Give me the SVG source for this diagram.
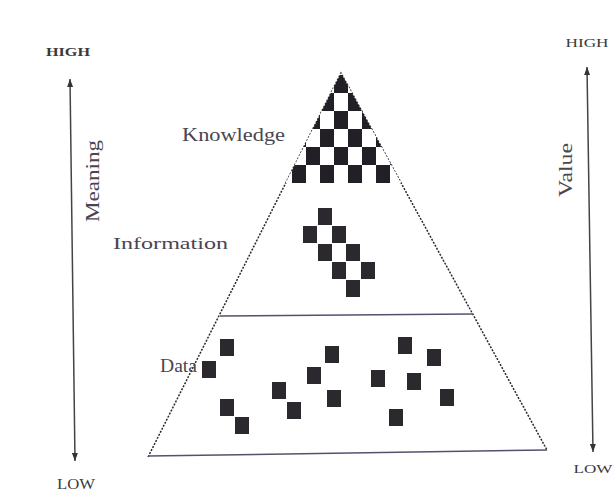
<svg xmlns="http://www.w3.org/2000/svg" width="614" height="495" viewBox="0 0 614 495">
<style>
.lbl{font-family:"Liberation Serif","Times New Roman",serif;fill:#4a4650}
.axis{font-family:"Liberation Serif","Times New Roman",serif;fill:#3a3a3a}
.side{fill:none;stroke:#2a2a2a;stroke-width:1.5;stroke-dasharray:2 1.4}
.base{fill:none;stroke:#5a4e6e;stroke-width:1.5}
.sq{fill:#2b292e}
.arr{fill:none;stroke:#444;stroke-width:1.5}
</style>
<defs>
<pattern id="chk" patternUnits="userSpaceOnUse" x="334" y="93" width="28" height="36">
<rect x="0" y="0" width="28" height="36" fill="#fff"/>
<rect x="14" y="0" width="14" height="18" fill="#222026"/>
<rect x="0" y="18" width="14" height="18" fill="#222026"/>
</pattern>
<marker id="ah" viewBox="0 0 8 6" refX="8" refY="3" markerWidth="8" markerHeight="6" markerUnits="userSpaceOnUse" orient="auto-start-reverse">
<path d="M0,0 L8,3 L0,6 z" fill="#333"/>
</marker>
</defs>
<rect width="614" height="495" fill="#fff"/>

<g id="pyramid">
<polyline class="side" points="148,457 341,73 547,450"/>
<line class="base" x1="148" y1="456" x2="547" y2="450"/>
</g>

<g id="knowledge">
<polygon points="341,73 285.7,183 401.1,183" fill="url(#chk)"/>
<text class="lbl" x="182" y="141" font-size="19" textLength="103" lengthAdjust="spacingAndGlyphs">Knowledge</text>
</g>

<g id="information">
<line class="base" x1="220" y1="316" x2="472" y2="314" stroke="#4a4a7a"/>
<rect class="sq" x="318" y="208" width="14" height="17"/>
<rect class="sq" x="303" y="226" width="14" height="17"/>
<rect class="sq" x="332" y="226" width="14" height="17"/>
<rect class="sq" x="318" y="244" width="14" height="17"/>
<rect class="sq" x="346" y="244" width="14" height="17"/>
<rect class="sq" x="332" y="262" width="14" height="17"/>
<rect class="sq" x="361" y="262" width="14" height="17"/>
<rect class="sq" x="346" y="280" width="14" height="17"/>
<text class="lbl" x="113" y="249" font-size="17" textLength="115" lengthAdjust="spacingAndGlyphs">Information</text>
</g>

<g id="data">
<rect class="sq" x="220" y="339" width="14" height="17"/>
<rect class="sq" x="202" y="361" width="14" height="17"/>
<rect class="sq" x="220" y="399" width="14" height="17"/>
<rect class="sq" x="235" y="417" width="14" height="17"/>
<rect class="sq" x="272" y="382" width="14" height="17"/>
<rect class="sq" x="287" y="402" width="14" height="17"/>
<rect class="sq" x="307" y="367" width="14" height="17"/>
<rect class="sq" x="325" y="346" width="14" height="17"/>
<rect class="sq" x="327" y="390" width="14" height="17"/>
<rect class="sq" x="371" y="370" width="14" height="17"/>
<rect class="sq" x="398" y="337" width="14" height="17"/>
<rect class="sq" x="427" y="349" width="14" height="17"/>
<rect class="sq" x="407" y="373" width="14" height="17"/>
<rect class="sq" x="440" y="389" width="14" height="17"/>
<rect class="sq" x="389" y="409" width="14" height="17"/>
<text class="lbl" x="160" y="372" font-size="18" textLength="37" lengthAdjust="spacingAndGlyphs">Data</text>
</g>

<g id="meaning-axis">
<text class="axis" x="68" y="56" font-size="13" font-weight="bold" text-anchor="middle" textLength="44" lengthAdjust="spacingAndGlyphs">HIGH</text>
<text class="axis" x="76" y="489" font-size="14" text-anchor="middle" textLength="38" lengthAdjust="spacingAndGlyphs">LOW</text>
<text class="lbl" transform="translate(99,181) rotate(-90)" font-size="18" text-anchor="middle" textLength="82" lengthAdjust="spacingAndGlyphs">Meaning</text>
</g>

<g id="value-axis">
<text class="axis" x="587" y="47" font-size="12" text-anchor="middle" textLength="43" lengthAdjust="spacingAndGlyphs">HIGH</text>
<text class="axis" x="593" y="473" font-size="12" text-anchor="middle" textLength="39" lengthAdjust="spacingAndGlyphs">LOW</text>
<text class="lbl" transform="translate(572,170) rotate(-90)" font-size="18" text-anchor="middle" textLength="54" lengthAdjust="spacingAndGlyphs">Value</text>
</g>

<g id="connectors">
<line class="arr" x1="70" y1="79" x2="75" y2="461" marker-start="url(#ah)" marker-end="url(#ah)"/>
<line class="arr" x1="587" y1="67" x2="593" y2="452" marker-start="url(#ah)" marker-end="url(#ah)"/>
</g>
</svg>
